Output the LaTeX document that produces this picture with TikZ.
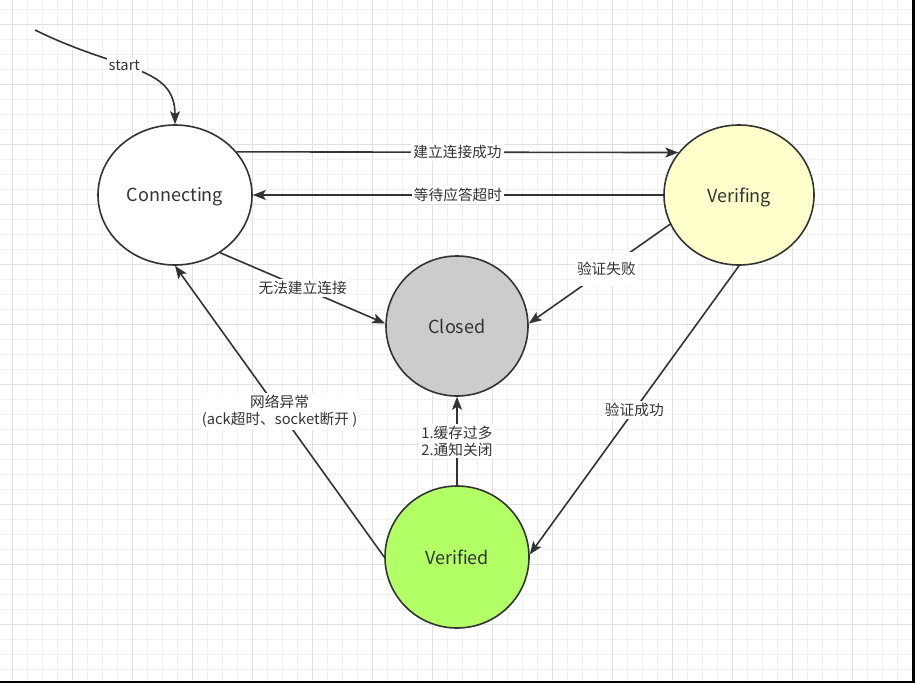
\documentclass[tikz,border=0pt]{standalone}
\usepackage{fontspec}
\usepackage{tikz}
\usetikzlibrary{positioning, arrows.meta, shapes}
\usepackage{xcolor}
\newfontfamily\cjk{Noto Sans CJK SC}
\definecolor{inkgray}{HTML}{333333}
\definecolor{gridminor}{HTML}{F0F0F0}
\definecolor{gridmajor}{HTML}{E0E0E0}
\definecolor{verifyellow}{HTML}{FFFFCC}
\definecolor{closedgray}{HTML}{CCCCCC}
\definecolor{okgreen}{HTML}{B3FF66}

\begin{document}
\begin{tikzpicture}[x=1pt, y=-1pt]
        \tikzstyle{state} = [ellipse, draw=inkgray, line width=1.6pt, text=inkgray,
          inner sep=0pt, text depth=0pt, font=\cjk\fontsize{18}{22}\selectfont]
        \tikzstyle{trans} = [draw=inkgray, line width=1.6pt,
          -{Stealth[length=13pt, width=10pt, inset=3pt]}]
        \tikzstyle{lbl} = [fill=white, inner sep=2pt, text=inkgray, align=center,
          font=\cjk\fontsize{14.7}{17}\selectfont]

        \useasboundingbox (0,0) rectangle (915,683);
        \fill[white] (0,0) rectangle (915,683);

        % background grid
        \foreach \x in {0,...,60}
          \draw[gridminor, line width=1pt] (12+15*\x, 0) -- (12+15*\x, 681);
        \foreach \y in {0,...,44}
          \draw[gridminor, line width=1pt] (0, 9+15*\y) -- (912, 9+15*\y);
        \foreach \x in {0,...,15}
          \draw[gridmajor, line width=1pt] (12+60*\x, 0) -- (12+60*\x, 681);
        \foreach \y in {0,...,10}
          \draw[gridmajor, line width=1pt] (0, 24+60*\y) -- (912, 24+60*\y);
        \fill[black] (912,0) rectangle (915,683);
        \fill[black] (0,681) rectangle (915,683);

        % states
        \node[state, fill=white, minimum width=154pt, minimum height=140pt] (conn) at (175,195) {Connecting};
        \node[state, fill=verifyellow, minimum width=150pt, minimum height=140pt] (verif) at (739,195) {Verifing};
        \node[state, fill=closedgray, minimum width=142pt, minimum height=140pt] (closed) at (457,326) {Closed};
        \node[state, fill=okgreen, minimum width=144pt, minimum height=142pt] (verified) at (457,557) {Verified};

        % transitions
        \coordinate (init) at (35,30);
        \draw[trans] (init) .. controls (120,72) and (175,65) .. (conn.north)
          node[lbl, pos=0.42] {start};
        \draw[trans] (conn.35) -- (verif.145) node[lbl, midway] {建立连接成功};
        \draw[trans] (verif.west) -- (conn.east) node[lbl, midway] {等待应答超时};
        \draw[trans] (conn.-52) -- (closed.178) node[lbl, midway] {无法建立连接};
        \draw[trans] (verif.-157) -- (closed.2) node[lbl, pos=0.45, inner ysep=10pt] {验证失败};
        \draw[trans] (verif.south) -- (verified.2) node[lbl, midway] {验证成功};
        \draw[trans] (verified.north) -- (closed.south) node[lbl, midway] {1.缓存过多\\2.通知关闭};
        \draw[trans] (verified.west) -- (conn.south) node[lbl, midway] {网络异常\\(ack超时、socket断开 )};
\end{tikzpicture}
\end{document}
